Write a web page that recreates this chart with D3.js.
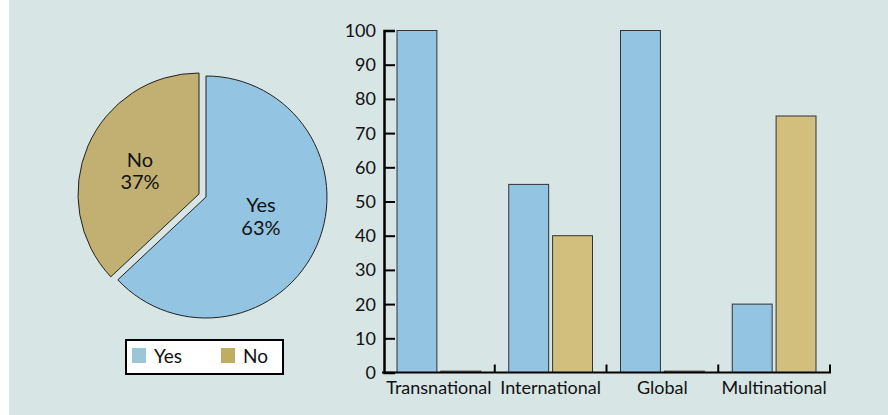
<!DOCTYPE html>
<html>
<head>
<meta charset="utf-8">
<script src="https://cdn.jsdelivr.net/npm/d3@7"></script>
<style>
  body { margin: 0; background: #ffffff; }
  text { font-family: Lato, "Open Sans", sans-serif; fill: #111; }
</style>
</head>
<body>
<div id="chart"></div>
<script>
// data ------------------------------------------------------------------
const pieLabels = ["Yes", "No"];
const pieValues = [63, 37];

const categories = ["Transnational", "International", "Global", "Multinational"];
const series = ["Yes", "No"];
const yesValues = [100, 55, 100, 20];
const noValues = [0.4, 40, 0.4, 75];
const yTicks = [0, 10, 20, 30, 40, 50, 60, 70, 80, 90, 100];

// set up ----------------------------------------------------------------
const svgWidth = 888;
const svgHeight = 415;

const pieColors = { Yes: "#93c4e1", No: "#c1b072" };
const barColors = { Yes: "#93c4e1", No: "#d2bf7d" };
const legendColors = { Yes: "#9ac6d8", No: "#bfae5f" };

const svg = d3.select("#chart")
    .append("svg")
    .attr("width", svgWidth)
    .attr("height", svgHeight);

svg.append("rect")
    .attr("x", 9).attr("y", 0)
    .attr("width", svgWidth - 9).attr("height", svgHeight)
    .attr("fill", "#d7e5e5");

// pie -------------------------------------------------------------------
const pieCx = 202.5, pieCy = 195.5, radius = 121, explode = 3.8;
const pie = d3.pie().sort(null).value(d => d.value);
const arc = d3.arc().innerRadius(0).outerRadius(radius);
const pieData = pie(pieLabels.map((l, i) => ({ label: l, value: pieValues[i] })));

const pieGroup = svg.append("g")
    .attr("transform", `translate(${pieCx},${pieCy})`);

const slices = pieGroup.selectAll("g.slice")
    .data(pieData)
    .enter()
    .append("g")
    .attr("class", "slice")
    .attr("transform", d => {
        const a = (d.startAngle + d.endAngle) / 2;
        return `translate(${Math.sin(a) * explode},${-Math.cos(a) * explode})`;
    });

slices.append("path")
    .attr("d", arc)
    .attr("fill", d => pieColors[d.data.label])
    .attr("stroke", "#222")
    .attr("stroke-width", 1);

// slice labels
const labelPos = { Yes: [55, 15], No: [-59, -27] };
slices.each(function (d) {
    const p = labelPos[d.data.label];
    const t = d3.select(this).append("text")
        .attr("text-anchor", "middle")
        .attr("font-size", "20px");
    t.append("tspan").attr("x", p[0]).attr("y", p[1]).text(d.data.label);
    t.append("tspan").attr("x", p[0]).attr("y", p[1] + 22.5).text(d.data.value + "%");
});

// legend
const legend = svg.append("g").attr("transform", "translate(126,340)");
legend.append("rect")
    .attr("width", 157).attr("height", 34)
    .attr("fill", "#fff")
    .attr("stroke", "#000")
    .attr("stroke-width", 2);
const legendItems = legend.selectAll("g.item")
    .data(pieLabels)
    .enter()
    .append("g")
    .attr("class", "item")
    .attr("transform", (d, i) => `translate(${6 + i * 89},8)`);
legendItems.append("rect")
    .attr("width", 14).attr("height", 15)
    .attr("fill", d => legendColors[d]);
legendItems.append("text")
    .attr("x", 22).attr("y", 15)
    .attr("font-size", "19px")
    .text(d => d);

// bars ------------------------------------------------------------------
const x0 = d3.scaleBand().domain(categories).range([383, 830]).padding(0);
const x1 = d3.scaleBand().domain(series)
    .range([14, x0.bandwidth() - 14])
    .paddingInner(0.09);
const y = d3.scaleLinear().domain([0, 100]).range([372.5, 30.5]);

const barGroups = svg.append("g")
    .selectAll("g")
    .data(categories)
    .enter()
    .append("g")
    .attr("transform", d => `translate(${x0(d)},0)`);

barGroups.selectAll("rect")
    .data((d, i) => series.map(s => ({ key: s, value: s === "Yes" ? yesValues[i] : noValues[i] })))
    .enter()
    .append("rect")
    .attr("x", d => x1(d.key))
    .attr("y", d => y(d.value))
    .attr("width", x1.bandwidth())
    .attr("height", d => y(0) - y(d.value))
    .attr("fill", d => barColors[d.key])
    .attr("stroke", "#333")
    .attr("stroke-width", 1);

// y axis
const yAxis = svg.append("g")
    .attr("transform", "translate(384,0)")
    .call(d3.axisRight(y).tickValues(yTicks).tickSize(11).tickFormat(""));
yAxis.select(".domain").attr("stroke", "#000").attr("stroke-width", 2.5);
yAxis.selectAll(".tick line").attr("stroke", "#000").attr("stroke-width", 2);

svg.append("g")
    .selectAll("text")
    .data(yTicks)
    .enter()
    .append("text")
    .attr("x", 376)
    .attr("y", d => y(d) + 6.5)
    .attr("text-anchor", "end")
    .attr("font-size", "18px")
    .text(d => d);

// x axis
const xEdges = categories.map(c => x0(c) + x0.bandwidth());
svg.append("line")
    .attr("x1", 382).attr("x2", 831)
    .attr("y1", y(0)).attr("y2", y(0))
    .attr("stroke", "#000").attr("stroke-width", 2);
svg.append("g")
    .selectAll("line")
    .data(xEdges)
    .enter()
    .append("line")
    .attr("x1", d => d).attr("x2", d => d)
    .attr("y1", y(0)).attr("y2", y(0) - 8)
    .attr("stroke", "#000").attr("stroke-width", 2);

svg.append("g")
    .selectAll("text")
    .data(categories)
    .enter()
    .append("text")
    .attr("x", d => x0(d) + x0.bandwidth() / 2)
    .attr("y", 394)
    .attr("text-anchor", "middle")
    .attr("font-size", "18px")
    .text(d => d);
</script>
</body>
</html>
